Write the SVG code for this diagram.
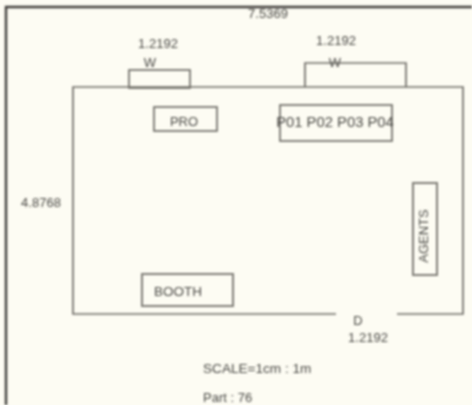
<svg xmlns="http://www.w3.org/2000/svg" width="472" height="405" viewBox="0 0 472 405">
<defs><filter id="soft" x="-5%" y="-5%" width="110%" height="110%"><feGaussianBlur stdDeviation="0.8"/></filter></defs>
<style>
.l{fill:none;stroke:#6f6d67;stroke-width:1.7}
.b{fill:none;stroke:#7f7d77;stroke-width:2}
text{font-family:"Liberation Sans",Arial,sans-serif;font-size:13px;fill:#4a4945}
.m{text-anchor:middle}
</style>
<rect width="472" height="405" fill="#fdfcf3"/>
<g filter="url(#soft)">
<g id="frame"><path d="M6 405V7H472" fill="none" stroke="#3f3e3a" stroke-width="2.4"/></g>
<g id="connectors">
<path class="l" d="M336 314H73V87H463V314H397"/>
</g>
<g id="door-left"><rect class="l" x="129" y="70" width="61" height="18"/></g>
<g id="door-right"><path class="l" d="M305 87V63H406V87"/></g>
<g id="pro"><rect class="l" x="154" y="107" width="63" height="24"/><text class="m" x="184" y="126">PRO</text></g>
<g id="pos"><rect class="l" x="280" y="105" width="112" height="36"/><text class="m" x="335" y="127" style="font-size:14.8px">P01 P02 P03 P04</text></g>
<g id="booth"><rect class="b" x="142" y="274" width="91" height="32"/><text x="154" y="296" style="font-size:13.5px">BOOTH</text></g>
<g id="agents"><rect class="b" x="413" y="183" width="24" height="92"/><text class="m" transform="translate(428 236) rotate(-90)" x="0" y="0">AGENTS</text></g>
<g id="labels">
<text class="m" x="268" y="18">7.5369</text>
<text class="m" x="158" y="48">1.2192</text>
<text class="m" x="336" y="45">1.2192</text>
<text class="m" x="150" y="67">W</text>
<text class="m" x="335" y="67">W</text>
<text class="m" x="41" y="207">4.8768</text>
<text class="m" x="358" y="325">D</text>
<text class="m" x="368" y="342">1.2192</text>
<text x="203" y="373" style="font-size:13.6px">SCALE=1cm : 1m</text>
<text x="203" y="402">Part : 76</text>
</g>
</g>
</svg>
